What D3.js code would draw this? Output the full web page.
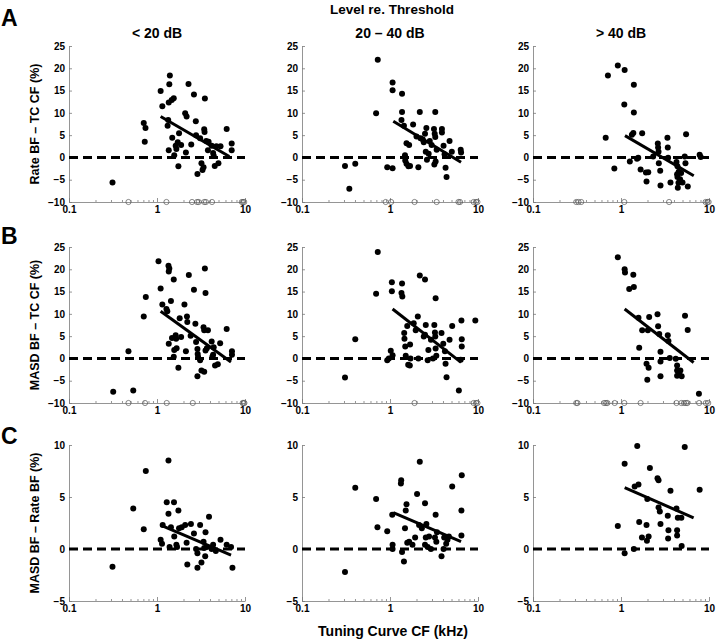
<!DOCTYPE html>
<html><head><meta charset="utf-8">
<script src="https://cdn.jsdelivr.net/npm/d3@7"></script>
<style>body{margin:0;background:#fff} text{font-family:"Liberation Sans",Arial,Helvetica,sans-serif;font-weight:bold;fill:#000}</style>
</head><body><svg id="c" width="720" height="644"></svg>
<script>
// ---- labels ----
const columnTitles = ["< 20 dB", "20 \u2013 40 dB", "> 40 dB"];
const rowLetters = ["A", "B", "C"];
const rowLabels = ["Rate BF \u2013 TC CF (%)", "MASD BF \u2013 TC CF (%)", "MASD BF \u2013 Rate BF (%)"];
const topTitle = "Level re. Threshold";
const xTitle = "Tuning Curve CF (kHz)";
const xTicks = [0.1, 1, 10];
const yTicksAB = [-10, -5, 0, 5, 10, 15, 20, 25];
const yTicksC = [-5, 0, 5, 10];
const yDomainAB = [-10, 25];
const yDomainC = [-5, 10];

// ---- Row A: Rate BF - TC CF ----
const a1Dots = [[0.312,-5.6],[0.707,7.7],[0.74,6.6],[0.726,3.5],[1.10,14.9],[1.15,11.5],[1.38,16.4],[1.40,18.4],[1.36,12.3],[1.47,12.9],[1.55,13.3],[1.32,7.1],[1.34,8.4],[1.36,1.6],[1.49,4.4],[1.57,0.5],[1.63,2.6],[1.72,3.4],[1.66,1.9],[1.75,-2.0],[1.78,5.4],[1.88,2.8],[2.09,9.9],[2.17,9.2],[2.13,1.1],[2.28,16.5],[2.45,2.9],[2.63,14.1],[2.76,8.1],[2.78,5.0],[2.88,-3.7],[3.09,4.3],[3.20,-1.3],[3.29,-2.8],[3.38,-2.2],[3.44,6.3],[3.50,13.2],[3.47,5.7],[3.63,3.7],[3.79,1.6],[3.86,3.5],[4.18,2.6],[4.34,1.0],[4.41,0.4],[4.73,2.5],[4.53,-1.9],[4.99,-1.3],[5.27,2.5],[6.19,6.4],[7.06,3.1],[7.06,1.6]];
const a1Out = [0.474,1.28,2.50,2.85,2.98,3.44,3.60,4.22,9.2,9.5,9.8];
const a1Fit = [[1.10,9.2],[6.64,0.2]];

const a2Dots = [[0.308,-1.9],[0.403,-1.4],[0.345,-7.0],[0.726,21.9],[0.695,9.9],[0.93,-2.2],[1.07,-2.4],[1.07,16.8],[1.07,15.1],[1.37,14.3],[1.37,10.2],[1.35,8.4],[1.44,7.1],[1.48,0.5],[1.54,3.2],[1.65,2.8],[1.49,-0.7],[1.54,-1.4],[1.62,-2.0],[1.69,-1.9],[1.83,7.4],[2.00,4.7],[2.10,-2.2],[2.18,10.2],[2.22,4.3],[2.36,4.0],[2.42,3.4],[2.50,5.3],[2.59,6.6],[2.55,1.3],[2.63,-0.5],[2.75,0.8],[2.83,3.7],[2.97,2.8],[3.16,6.4],[3.22,5.3],[3.27,4.6],[3.27,10.2],[3.19,-1.6],[3.30,-0.9],[3.39,1.7],[3.89,6.4],[3.89,5.6],[4.06,2.6],[4.17,0.7],[4.28,-2.3],[4.39,-4.4],[4.75,3.7],[5.04,1.3],[6.36,1.7],[6.42,1.1]];
const a2Out = [0.894,1.03,1.90,3.39,6.0,6.25,8.93,9.5,9.85];
const a2Fit = [[1.09,8.1],[6.42,-1.1]];

const a3Dots = [[0.67,4.4],[0.71,18.4],[0.84,-2.5],[0.92,20.6],[1.10,19.6],[1.09,11.9],[1.40,16.3],[1.40,10.1],[1.33,5.1],[1.38,5.5],[1.26,-0.9],[1.52,-0.3],[1.57,-0.1],[1.74,5.4],[1.67,-2.7],[1.92,-3.4],[2.04,-3.3],[1.95,-5.4],[2.32,0.2],[2.62,3.1],[2.64,2.2],[2.67,1.3],[2.69,-1.3],[2.79,-3.0],[2.81,-6.3],[3.37,4.4],[3.40,2.2],[3.43,-0.1],[3.65,-5.6],[4.27,-1.0],[4.38,-2.0],[4.34,-3.8],[4.38,-4.4],[4.50,-5.7],[4.42,-6.8],[4.69,-4.9],[4.82,-3.5],[5.00,-5.6],[5.30,0.2],[5.40,-1.3],[5.49,5.2],[5.74,-6.5],[7.83,0.6],[8.04,0.1],[4.53,-3.2]];
const a3Out = [0.31,0.329,0.353,1.09,3.52,9.15,9.6,9.9];
const a3Fit = [[1.11,4.9],[6.71,-4.1]];

// ---- Row B: MASD BF - TC CF ----
const b1Dots = [[0.318,-7.5],[0.474,1.6],[0.537,-7.2],[0.707,9.4],[0.746,13.8],[1.04,21.8],[1.10,15.7],[1.15,12.1],[1.28,11.1],[1.31,10.6],[1.35,20.8],[1.38,20.2],[1.36,19.5],[1.44,12.9],[1.55,17.7],[1.36,3.3],[1.48,4.6],[1.55,0.4],[1.57,1.9],[1.63,5.2],[1.65,4.4],[1.67,2.3],[1.75,-2.1],[1.81,9.0],[1.88,4.8],[2.05,12.1],[2.13,1.6],[2.19,9.4],[2.21,8.2],[2.30,18.7],[2.41,5.1],[2.63,15.4],[2.73,7.8],[2.78,3.7],[2.88,2.1],[2.90,1.0],[2.93,0.3],[2.88,-4.0],[3.09,-0.4],[3.20,-2.7],[3.38,7.0],[3.44,6.3],[3.50,20.2],[3.56,14.7],[3.56,1.8],[3.44,-3.0],[3.79,6.3],[3.69,2.3],[4.18,3.8],[4.26,0.4],[4.34,0.8],[4.41,2.5],[4.57,-1.6],[4.91,-1.3],[5.22,3.4],[6.19,6.6],[7.11,1.6],[7.11,0.8]];
const b1Out = [0.474,0.731,1.29,2.55,9.4,9.65,9.85];
const b1Fit = [[1.10,10.6],[6.93,-0.8]];

const b2Dots = [[0.308,-4.3],[0.403,4.3],[0.726,23.9],[0.695,14.5],[0.93,-0.4],[0.97,0.0],[1.02,1.7],[1.05,17.1],[1.05,15.1],[1.07,0.7],[1.37,16.8],[1.35,14.7],[1.38,13.9],[1.45,5.7],[1.46,4.4],[1.49,2.7],[1.51,0.6],[1.57,7.3],[1.61,-1.4],[1.68,-1.6],[1.69,3.1],[1.71,0.0],[1.86,7.9],[1.96,6.3],[2.07,9.4],[2.10,0.0],[2.18,18.6],[2.42,4.9],[2.50,17.7],[2.50,5.3],[2.55,7.5],[2.68,-0.4],[2.73,1.9],[2.92,4.2],[3.08,0.0],[3.19,7.5],[3.24,5.8],[3.30,13.5],[3.27,4.9],[3.30,2.2],[3.36,0.6],[3.85,5.7],[4.03,3.3],[4.21,1.6],[4.28,-1.2],[4.39,-4.2],[4.75,4.2],[5.09,7.3],[6.06,-7.2],[6.36,-0.3],[6.48,8.5],[6.54,4.3],[6.54,2.7],[9.32,8.5]];
const b2Out = [1.90,8.93,9.5,9.85];
const b2Fit = [[1.07,11.1],[6.42,-0.9]];

const b3Dots = [[0.92,22.7],[1.10,20.0],[1.11,19.3],[1.38,18.8],[1.24,15.6],[1.40,16.0],[1.58,9.1],[1.61,2.4],[1.74,6.3],[1.95,-1.2],[2.06,-2.1],[1.99,-4.8],[2.09,9.3],[2.02,6.3],[2.60,9.9],[2.64,7.2],[2.72,5.5],[2.81,1.5],[2.81,-0.7],[2.81,-4.0],[3.40,5.2],[3.46,3.9],[3.58,0.1],[4.19,-0.1],[4.34,-1.6],[4.34,-2.7],[4.34,-3.9],[4.73,-2.7],[4.89,-4.0],[5.34,9.6],[5.73,6.4],[7.68,-7.9],[4.57,-3.3]];
const b3Out = [0.31,0.32,0.642,0.676,0.70,0.848,1.09,1.67,4.27,4.85,5.20,5.49,5.68,7.73,9.2,9.8];
const b3Fit = [[1.10,11.1],[6.69,-0.9]];

// ---- Row C: MASD BF - Rate BF ----
const c1Dots = [[0.312,-1.7],[0.537,3.9],[0.707,1.9],[0.746,7.5],[1.10,0.9],[1.14,0.5],[1.16,2.3],[1.29,4.5],[1.35,8.5],[1.35,3.4],[1.39,0.2],[1.44,2.1],[1.56,4.5],[1.57,1.2],[1.66,0.4],[1.69,0.2],[1.75,3.7],[1.78,2.0],[1.91,2.1],[2.09,2.3],[2.17,0.6],[2.21,-1.5],[2.43,2.4],[2.63,1.5],[2.78,0.0],[2.88,-0.4],[2.88,-1.8],[3.09,2.3],[3.20,-1.3],[3.38,0.7],[3.44,0.1],[3.53,-0.7],[3.56,1.6],[3.69,0.2],[3.90,3.1],[4.18,0.0],[4.34,0.4],[4.66,-0.2],[5.27,0.9],[6.19,0.4],[6.94,0.2],[7.20,-1.8]];
const c1Fit = [[1.10,2.3],[6.94,-0.6]];

const c2Dots = [[0.308,-2.2],[0.403,5.9],[0.695,4.8],[0.72,2.1],[0.93,1.7],[1.06,3.3],[1.07,0.4],[1.07,0.0],[1.34,6.6],[1.33,6.3],[1.37,-0.3],[1.44,-1.2],[1.48,2.0],[1.51,3.7],[1.54,4.3],[1.57,0.6],[1.65,0.7],[1.80,0.4],[1.93,1.1],[2.03,5.3],[2.18,8.4],[2.14,2.3],[2.30,2.0],[2.50,4.4],[2.55,1.1],[2.50,0.4],[2.59,2.4],[2.68,0.2],[2.78,1.2],[2.92,0.0],[3.24,1.1],[3.30,3.3],[3.36,0.7],[3.42,1.6],[3.85,-0.7],[4.06,0.0],[4.13,1.1],[4.35,0.5],[4.50,0.9],[4.67,1.2],[5.09,6.0],[6.48,3.7],[6.54,7.1],[6.48,1.3]];
const c2Fit = [[1.09,3.5],[6.42,0.7]];

const c3Dots = [[0.92,2.2],[1.10,8.2],[1.10,-0.4],[1.40,0.0],[1.43,6.0],[1.58,6.2],[1.53,9.9],[1.61,2.6],[1.73,1.1],[1.95,2.3],[1.99,4.8],[1.97,0.8],[2.06,1.2],[2.13,7.8],[2.60,6.8],[2.67,6.6],[2.67,4.0],[2.76,3.6],[2.81,2.4],[3.40,3.2],[3.46,1.8],[3.43,1.0],[3.65,5.6],[4.27,3.9],[4.34,1.8],[4.34,1.3],[4.42,3.0],[4.85,3.0],[4.89,0.3],[5.30,9.8],[7.83,5.7]];
const c3Fit = [[1.10,5.9],[6.69,3.0]];

// ---- build panels ----
const panelData = [
  [{dots:a1Dots,out:a1Out,fit:a1Fit},{dots:a2Dots,out:a2Out,fit:a2Fit},{dots:a3Dots,out:a3Out,fit:a3Fit}],
  [{dots:b1Dots,out:b1Out,fit:b1Fit},{dots:b2Dots,out:b2Out,fit:b2Fit},{dots:b3Dots,out:b3Out,fit:b3Fit}],
  [{dots:c1Dots,out:[],fit:c1Fit},{dots:c2Dots,out:[],fit:c2Fit},{dots:c3Dots,out:[],fit:c3Fit}]
];

const svg = d3.select("#c");
const colLeft = [69, 302, 533];
const rowTop = [46, 247, 445];
const W = 176, H = 156;
const axisColor = "#7a7a7a";
const minorTicks = [];
for (let dec of [0.1, 1]) for (let k = 2; k <= 9; k++) minorTicks.push(+(dec*k).toFixed(2));

svg.append("text").attr("x", 392).attr("y", 14).attr("text-anchor","middle").style("font-size","13.5px").text(topTitle);

rowTop.forEach((top, r) => {
  svg.append("text").attr("x", 1).attr("y", [26, 244, 444][r]).style("font-size","23px").text(rowLetters[r]);
  svg.append("text").attr("transform", `translate(39,${top + H/2}) rotate(-90)`)
    .attr("text-anchor","middle").style("font-size","12.5px").text(rowLabels[r]);
  colLeft.forEach((left, c) => {
    const p = panelData[r][c];
    const yDom = r < 2 ? yDomainAB : yDomainC;
    const yT = r < 2 ? yTicksAB : yTicksC;
    const x = d3.scaleLog().domain([0.1, 10]).range([left, left + W]);
    const y = d3.scaleLinear().domain(yDom).range([top + H, top]);
    const g = svg.append("g");

    if (r === 0) {
      g.append("text").attr("x", left + W/2).attr("y", 38).attr("text-anchor","middle").style("font-size","14px").text(columnTitles[c]);
    }

    // axes
    const xa = g.append("g").attr("transform", `translate(0,${top + H})`)
      .call(d3.axisBottom(x).tickValues(xTicks).tickFormat(d => d).tickSizeInner(-4).tickSizeOuter(0).tickPadding(4));
    const xm = g.append("g").attr("transform", `translate(0,${top + H})`)
      .call(d3.axisBottom(x).tickValues(minorTicks).tickFormat("").tickSizeInner(-2).tickSizeOuter(0));
    xm.select(".domain").remove();
    const ya = g.append("g").attr("transform", `translate(${left},0)`)
      .call(d3.axisLeft(y).tickValues(yT).tickFormat(d => d < 0 ? "\u2212" + Math.abs(d) : d).tickSizeInner(-3).tickSizeOuter(0).tickPadding(4));
    [xa, xm, ya].forEach(a => {
      a.selectAll("path,line").attr("stroke", axisColor).attr("stroke-width", 0.8);
      a.selectAll("text").style("font-size","10px").style("font-family","'Liberation Sans',Arial,sans-serif").style("font-weight","bold").attr("fill","#000");
    });

    // zero line
    g.append("line").attr("x1", x(0.1)).attr("x2", x(10)).attr("y1", y(0)).attr("y2", y(0))
      .attr("stroke","#000").attr("stroke-width",3).attr("stroke-dasharray","9,5");

    // out-of-range open circles
    g.selectAll(".o").data(p.out).enter().append("circle")
      .attr("cx", d => x(d)).attr("cy", y(yDom[0])).attr("r", 2.6)
      .attr("fill","none").attr("stroke","#555").attr("stroke-width",0.7);

    // dots
    g.selectAll(".d").data(p.dots).enter().append("circle")
      .attr("cx", d => x(d[0])).attr("cy", d => y(d[1])).attr("r", 3).attr("fill","#000");

    // regression line
    g.append("line").attr("x1", x(p.fit[0][0])).attr("y1", y(p.fit[0][1]))
      .attr("x2", x(p.fit[1][0])).attr("y2", y(p.fit[1][1]))
      .attr("stroke","#000").attr("stroke-width",3);
  });
});

svg.append("text").attr("x", 393).attr("y", 636).attr("text-anchor","middle").style("font-size","14px").text(xTitle);
</script></body></html>
